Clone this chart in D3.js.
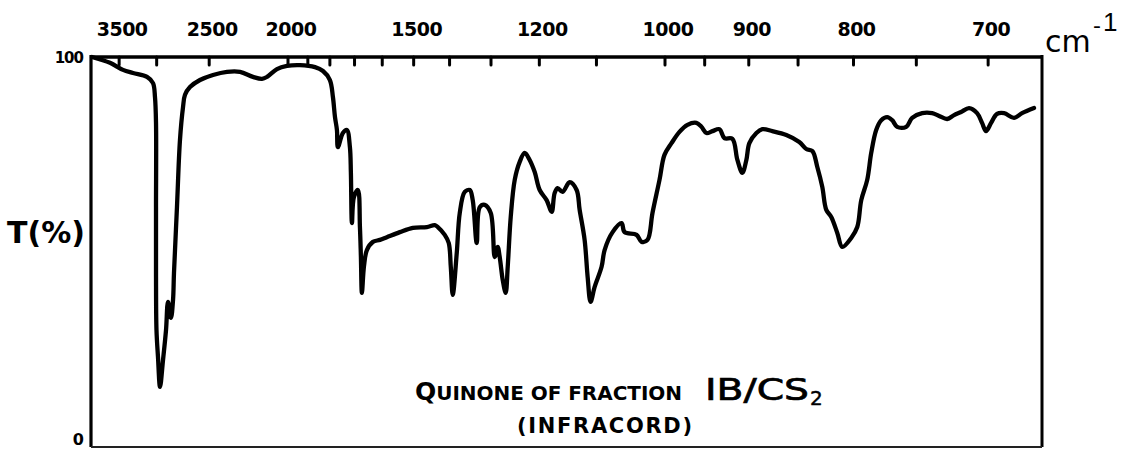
<!DOCTYPE html>
<html><head><meta charset="utf-8">
<script src="https://cdn.jsdelivr.net/npm/d3@7"></script>
<style>body{margin:0;background:#fff}svg{display:block}</style>
</head><body>
<script>
// Traced IR spectrum: wavelength (µm) and transmittance (%)
const wavelength = [
  2.513,2.741,2.906,3.033,3.211,3.287,3.312,3.325,3.325,3.325,3.331,3.350,3.376,3.414,3.452,3.477,3.515,3.541,3.553,3.591,
  3.629,3.668,3.693,3.756,3.883,4.048,4.226,4.391,4.556,4.670,4.734,4.860,4.987,5.159,5.358,5.464,5.556,5.596,5.623,5.649,
  5.662,5.728,5.781,5.821,5.834,5.848,5.874,5.927,5.954,5.967,5.980,6.007,6.046,6.126,6.219,6.311,6.483,6.656,6.841,6.947,
  6.987,7.079,7.132,7.159,7.185,7.238,7.278,7.344,7.411,7.450,7.503,7.543,7.609,7.689,7.742,7.781,7.808,7.848,7.887,7.914,
  7.954,8.007,8.073,8.139,8.205,8.272,8.338,8.430,8.497,8.536,8.576,8.642,8.735,8.828,8.868,8.934,8.974,9.013,9.066,9.159,
  9.199,9.305,9.424,9.464,9.623,9.689,9.768,9.834,9.927,9.993,10.086,10.192,10.298,10.417,10.483,10.550,10.629,10.722,10.788,10.894,
  10.960,11.026,11.079,11.119,11.212,11.291,11.424,11.609,11.781,11.874,11.954,12.020,12.086,12.139,12.205,12.285,12.351,12.470,12.550,12.603,
  12.682,12.735,12.801,12.868,12.947,13.013,13.079,13.199,13.278,13.411,13.543,13.636,13.742,13.834,13.927,14.033,14.139,14.205,14.258,14.325,
  14.404,14.497,14.629,14.735,14.894
];
const transmittance = [
  100.0,98.5,96.7,95.9,94.9,93.3,89.7,83.1,61.5,44.6,30.0,23.1,15.4,22.3,30.0,37.2,33.1,37.7,44.6,61.5,
  78.7,87.2,90.3,92.3,94.1,95.4,96.2,96.2,94.9,94.4,94.9,96.9,97.7,97.9,97.4,96.4,94.1,89.7,84.6,81.3,
  76.9,80.5,81.3,76.9,70.3,57.4,64.1,65.9,56.4,48.7,39.5,46.2,50.5,52.6,53.1,53.8,55.1,56.2,56.4,56.9,
  56.4,54.4,52.3,46.2,39.0,49.7,60.0,65.4,65.9,63.3,52.3,61.5,62.1,60.0,48.7,51.3,48.7,42.8,39.5,46.2,
  59.0,68.5,73.1,75.4,73.6,70.5,65.9,63.3,60.3,65.1,66.4,65.4,67.9,65.9,60.8,53.1,43.6,37.2,41.0,46.2,
  50.5,55.1,57.4,55.1,54.4,52.6,53.1,60.0,68.5,74.9,77.9,80.8,82.6,83.1,82.1,80.5,81.0,81.5,79.2,79.0,
  73.6,70.3,73.6,77.9,80.5,81.5,81.0,80.0,78.2,76.4,75.9,71.8,66.7,60.8,59.0,54.9,51.3,53.6,56.4,63.3,
  68.5,75.4,81.3,83.8,84.6,83.8,82.1,82.1,84.4,85.6,85.6,84.9,84.1,85.1,85.9,86.9,85.6,83.1,81.0,83.1,
  85.4,85.6,84.4,85.6,86.9
];
// Axis ticks (wavenumber, cm-1)
const tickMarks = [3500,3000,2500,2000,1900,1800,1700,1600,1500,1400,1300,1200,1100,1000,950,900,850,800,750,700];
const tickLabels = [3500,2500,2000,1500,1200,1000,900,800,700];
const yLabels = [100, 0];

const W = 1121, H = 449;
const plot = {left: 91, top: 57, right: 1042, bottom: 447, scaleBreak: 288};

const svg = d3.select("body").append("svg").attr("width", W).attr("height", H);

// Infracord chart: linear in wavelength, with a scale change at 5 µm
const x = d3.scaleLinear().domain([2.5, 5, 15]).range([plot.left, plot.scaleBreak, plot.right]);
const y = d3.scaleLinear().domain([0, 100]).range([plot.bottom, plot.top]);
const xw = wn => x(1e4 / wn);

const ink = "#000";
const font = "'DejaVu Sans', sans-serif";

// Frame
svg.append("line").attr("x1", plot.left).attr("x2", plot.left).attr("y1", plot.top - 2).attr("y2", plot.bottom)
  .attr("stroke", ink).attr("stroke-width", 3.2);
svg.append("line").attr("x1", plot.right).attr("x2", plot.right).attr("y1", plot.top - 2).attr("y2", plot.bottom)
  .attr("stroke", ink).attr("stroke-width", 3);
svg.append("line").attr("x1", plot.left - 1).attr("x2", plot.right + 1).attr("y1", plot.top).attr("y2", plot.top)
  .attr("stroke", ink).attr("stroke-width", 3.5);
svg.append("line").attr("x1", plot.left).attr("x2", plot.right).attr("y1", plot.bottom).attr("y2", plot.bottom)
  .attr("stroke", "#222").attr("stroke-width", 2);

// Ticks (hanging down from the top axis)
svg.selectAll("line.tick").data(tickMarks).enter().append("line").attr("class", "tick")
  .attr("x1", d => xw(d)).attr("x2", d => xw(d))
  .attr("y1", plot.top).attr("y2", plot.top + 8)
  .attr("stroke", ink).attr("stroke-width", 3).attr("stroke-linecap", "round");

svg.selectAll("text.tl").data(tickLabels).enter().append("text").attr("class", "tl")
  .attr("x", d => xw(d) + 3).attr("y", 36)
  .attr("text-anchor", "middle").attr("font-family", font).attr("font-weight", "bold")
  .attr("font-size", 19).attr("letter-spacing", -0.5).attr("fill", ink).text(d => d);

// Unit label
svg.append("text").attr("x", 1045).attr("y", 52).attr("font-family", font)
  .attr("font-size", 30).attr("fill", ink).text("cm");
svg.append("text").attr("x", 1093).attr("y", 33).attr("font-family", font)
  .attr("font-size", 22).attr("fill", ink).text("-");
svg.append("text").attr("x", 1103).attr("y", 31).attr("font-family", "'Liberation Sans', sans-serif")
  .attr("font-size", 26).attr("fill", ink).text("1");

// Y labels
svg.selectAll("text.yl").data(yLabels).enter().append("text").attr("class", "yl")
  .attr("x", 83).attr("y", d => d === 100 ? y(d) + 6 : 445)
  .attr("text-anchor", "end").attr("font-family", font).attr("font-weight", "bold")
  .attr("font-size", d => d === 100 ? 15 : 16).attr("letter-spacing", -1).attr("fill", ink).text(d => d);

svg.append("text").attr("x", 7).attr("y", 243).attr("font-family", font).attr("font-weight", "bold")
  .attr("font-size", 30).attr("fill", ink).text("T(%)");

// Spectrum
const line = d3.line()
  .x((d, i) => x(wavelength[i]))
  .y((d, i) => y(transmittance[i]))
  .curve(d3.curveCatmullRom.alpha(0.5));
svg.append("path").attr("d", line(wavelength)).attr("fill", "none").attr("stroke", ink)
  .attr("stroke-width", 4.3).attr("stroke-linejoin", "round").attr("stroke-linecap", "round");

// Annotation
const t1 = svg.append("text").attr("x", 415).attr("y", 400).attr("font-family", font)
  .attr("font-weight", "bold").attr("font-size", 20).attr("fill", ink)
  .attr("textLength", 267).attr("lengthAdjust", "spacing");
t1.append("tspan").attr("font-size", 25).text("Q");
t1.append("tspan").text("UINONE OF FRACTION");

svg.append("text").attr("x", 705).attr("y", 400).attr("font-family", font)
  .attr("font-size", 31).attr("fill", ink).attr("stroke", ink).attr("stroke-width", 0.7)
  .attr("textLength", 104).attr("lengthAdjust", "spacingAndGlyphs").text("IB/CS");
svg.append("text").attr("x", 810).attr("y", 405).attr("font-family", font)
  .attr("font-size", 20).attr("fill", ink).attr("stroke", ink).attr("stroke-width", 0.5).text("2");

svg.append("text").attr("x", 517).attr("y", 433).attr("font-family", font)
  .attr("font-weight", "bold").attr("font-size", 21).attr("fill", ink)
  .attr("textLength", 175).attr("lengthAdjust", "spacing").text("(INFRACORD)");
</script>
</body></html>
